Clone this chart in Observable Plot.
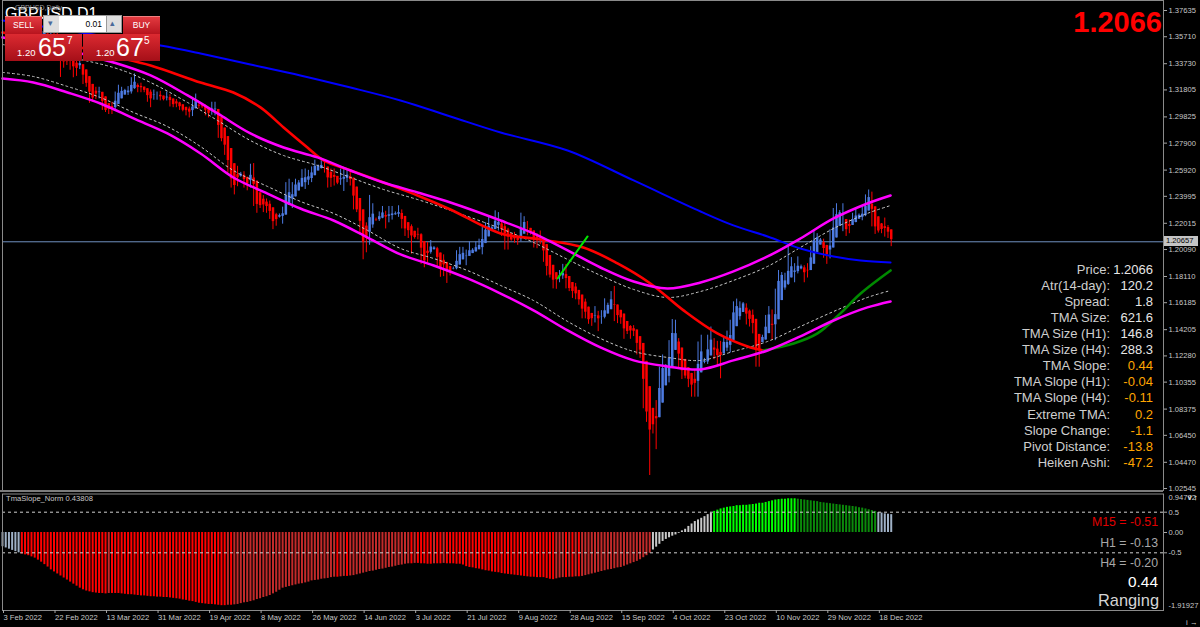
<!DOCTYPE html>
<html><head><meta charset="utf-8">
<script src="https://cdn.jsdelivr.net/npm/d3@7"></script>
<script src="https://cdn.jsdelivr.net/npm/@observablehq/plot@0.6"></script>
<style>
html,body{margin:0;padding:0;background:#000;}
#wrap{position:relative;width:1200px;height:627px;overflow:hidden;background:#000;font-family:"Liberation Sans",Arial,sans-serif;}
#wrap svg{position:absolute;left:0;}
.t{position:absolute;white-space:nowrap;line-height:1;}
</style></head><body><div id="wrap"></div><script>
// ---------- DATA ----------
const firstOpen = 1.3525;
const closes = [
1.3600,1.3530,1.3535,1.3535,1.3530,1.3555,1.3565,1.3560,1.3555,1.3535,
1.3540,1.3605,1.3610,1.3590,1.3575,1.3595,1.3570,1.3560,1.3375,1.3410,
1.3380,1.3410,1.3290,1.3385,1.3340,1.3245,1.3220,1.3110,1.3105,1.3185,
1.3160,1.3035,1.3030,1.3040,1.3040,1.3150,1.3170,1.3180,1.3175,1.3170,
1.3265,1.3200,1.3210,1.3185,1.3175,1.3100,1.3130,1.3155,1.3140,1.3110,
1.3110,1.3135,1.3075,1.3075,1.3075,1.3035,1.3030,1.3040,1.3000,1.3110,
1.3065,1.3060,1.3055,1.3010,1.3010,1.3070,1.3010,1.2835,1.2820,1.2735,
1.2575,1.2480,1.2480,1.2570,1.2560,1.2490,1.2495,1.2625,1.2360,1.2340,
1.2330,1.2330,1.2315,1.2245,1.2195,1.2265,1.2255,1.2315,1.2490,1.2345,
1.2490,1.2490,1.2500,1.2565,1.2530,1.2570,1.2600,1.2625,1.2620,1.2620,
1.2600,1.2470,1.2590,1.2490,1.2500,1.2530,1.2590,1.2530,1.2490,1.2310,
1.2300,1.2135,1.1995,1.2180,1.2345,1.2220,1.2230,1.2270,1.2280,1.2260,
1.2265,1.2265,1.2275,1.2270,1.2190,1.2130,1.2175,1.2095,1.2100,1.2115,
1.1935,1.1920,1.2030,1.2030,1.2020,1.1890,1.1890,1.1915,1.1830,1.1865,
1.1870,1.1960,1.1990,1.1970,1.1975,1.2000,1.2005,1.2030,1.2030,1.2160,
1.2180,1.2165,1.2170,1.2240,1.2165,1.2145,1.2155,1.2075,1.2080,1.2080,
1.2075,1.2215,1.2200,1.2130,1.2125,1.2055,1.2100,1.2060,1.1945,1.1830,
1.1820,1.1765,1.1830,1.1820,1.1830,1.1735,1.1720,1.1690,1.1645,1.1620,
1.1540,1.1510,1.1495,1.1525,1.1510,1.1530,1.1500,1.1590,1.1600,1.1680,
1.1500,1.1540,1.1470,1.1415,1.1410,1.1435,1.1380,1.1265,1.1255,1.0855,
1.0810,1.0685,1.0735,1.0890,1.1120,1.1165,1.1150,1.1325,1.1475,1.1320,
1.1150,1.1090,1.1080,1.1060,1.0970,1.1090,1.1320,1.1175,1.1190,1.1355,
1.1320,1.1205,1.1220,1.1310,1.1340,1.1295,1.1475,1.1615,1.1575,1.1620,
1.1610,1.1465,1.1515,1.1395,1.1160,1.1375,1.1360,1.1510,1.1545,1.1355,
1.1710,1.1835,1.1810,1.1760,1.1860,1.1870,1.1865,1.1895,1.1880,1.1820,
1.1885,1.2015,1.2115,1.2090,1.2075,1.1960,1.1990,1.2055,1.2265,1.2285,
1.2275,1.2160,1.2155,1.2210,1.2240,1.2265,1.2260,1.2275,1.2370,1.2415,
1.2195,1.2140,1.2150,1.2150,1.2165,1.2105,1.2066];
const highs = [
1.3628,1.3645,1.3540,1.3545,1.3570,1.3590,1.3643,1.3588,1.3562,1.3568,
1.3570,1.3614,1.3643,1.3620,1.3592,1.3645,1.3630,1.3600,1.3570,1.3420,
1.3400,1.3445,1.3430,1.3400,1.3440,1.3350,1.3250,1.3245,1.3180,1.3200,
1.3200,1.3160,1.3040,1.3080,1.3090,1.3165,1.3215,1.3200,1.3185,1.3205,
1.3270,1.3298,1.3225,1.3230,1.3190,1.3190,1.3180,1.3180,1.3165,1.3170,
1.3115,1.3165,1.3145,1.3090,1.3110,1.3090,1.3040,1.3055,1.3055,1.3125,
1.3150,1.3080,1.3065,1.3070,1.3040,1.3090,1.3090,1.3010,1.2835,1.2845,
1.2770,1.2595,1.2545,1.2620,1.2575,1.2580,1.2540,1.2635,1.2640,1.2385,
1.2345,1.2405,1.2380,1.2365,1.2260,1.2275,1.2270,1.2320,1.2500,1.2525,
1.2500,1.2525,1.2515,1.2595,1.2600,1.2590,1.2615,1.2665,1.2630,1.2665,
1.2665,1.2610,1.2600,1.2600,1.2510,1.2600,1.2600,1.2600,1.2595,1.2505,
1.2310,1.2315,1.2185,1.2205,1.2406,1.2345,1.2240,1.2285,1.2325,1.2290,
1.2325,1.2325,1.2285,1.2330,1.2300,1.2215,1.2195,1.2190,1.2110,1.2165,
1.2125,1.1970,1.2060,1.2075,1.2030,1.2025,1.1920,1.1970,1.1915,1.1885,
1.1880,1.2000,1.2025,1.2025,1.2005,1.2065,1.2015,1.2065,1.2085,1.2170,
1.2205,1.2245,1.2180,1.2293,1.2280,1.2210,1.2200,1.2165,1.2090,1.2135,
1.2110,1.2276,1.2250,1.2215,1.2135,1.2135,1.2125,1.2145,1.2075,1.1950,
1.1835,1.1830,1.1840,1.1855,1.1900,1.1900,1.1735,1.1745,1.1760,1.1695,
1.1625,1.1645,1.1510,1.1540,1.1590,1.1555,1.1560,1.1647,1.1615,1.1700,
1.1738,1.1590,1.1560,1.1470,1.1420,1.1450,1.1450,1.1400,1.1350,1.1275,
1.0860,1.0890,1.0815,1.0900,1.1145,1.1235,1.1165,1.1340,1.1495,1.1490,
1.1355,1.1180,1.1090,1.1090,1.1100,1.1120,1.1330,1.1380,1.1210,1.1380,
1.1440,1.1355,1.1335,1.1335,1.1360,1.1410,1.1490,1.1625,1.1645,1.1625,
1.1620,1.1610,1.1565,1.1565,1.1400,1.1380,1.1380,1.1525,1.1590,1.1565,
1.1718,1.1855,1.1840,1.1835,1.2030,1.1950,1.1905,1.1955,1.1895,1.1890,
1.1905,1.2030,1.2155,1.2125,1.2090,1.2085,1.2040,1.2155,1.2310,1.2345,
1.2295,1.2345,1.2200,1.2225,1.2275,1.2310,1.2270,1.2320,1.2410,1.2446,
1.2430,1.2245,1.2160,1.2200,1.2240,1.2185,1.2125];
const lows = [
1.3520,1.3490,1.3525,1.3487,1.3505,1.3520,1.3530,1.3520,1.3545,1.3500,
1.3520,1.3525,1.3580,1.3575,1.3560,1.3535,1.3540,1.3540,1.3272,1.3340,
1.3360,1.3325,1.3270,1.3280,1.3330,1.3220,1.3200,1.3082,1.3090,1.3110,
1.3115,1.3030,1.3015,1.3000,1.3000,1.3035,1.3090,1.3130,1.3165,1.3140,
1.3150,1.3185,1.3160,1.3160,1.3160,1.3090,1.3050,1.3105,1.3105,1.3100,
1.3100,1.3100,1.3055,1.3050,1.3050,1.3030,1.3020,1.2990,1.2975,1.2985,
1.3055,1.3040,1.3045,1.2990,1.2975,1.2995,1.2990,1.2825,1.2800,1.2700,
1.2570,1.2460,1.2410,1.2470,1.2540,1.2460,1.2440,1.2460,1.2325,1.2275,
1.2310,1.2280,1.2275,1.2230,1.2155,1.2180,1.2240,1.2195,1.2310,1.2345,
1.2310,1.2425,1.2485,1.2465,1.2450,1.2480,1.2500,1.2590,1.2610,1.2600,
1.2570,1.2460,1.2465,1.2475,1.2485,1.2480,1.2435,1.2500,1.2475,1.2300,
1.2280,1.2115,1.1934,1.1985,1.2040,1.2165,1.2215,1.2215,1.2235,1.2160,
1.2205,1.2225,1.2260,1.2245,1.2160,1.2105,1.2090,1.1975,1.2085,1.2080,
1.1900,1.1875,1.1910,1.1975,1.2005,1.1870,1.1805,1.1810,1.1760,1.1815,
1.1860,1.1860,1.1910,1.1940,1.1890,1.1960,1.1995,1.1990,1.2010,1.1970,
1.2060,1.2130,1.2160,1.2165,1.2145,1.2105,1.2005,1.2005,1.2070,1.2055,
1.2040,1.2065,1.2165,1.2110,1.2115,1.2020,1.2015,1.2045,1.1915,1.1815,
1.1800,1.1720,1.1717,1.1765,1.1790,1.1720,1.1700,1.1650,1.1640,1.1600,
1.1500,1.1500,1.1460,1.1445,1.1470,1.1406,1.1460,1.1500,1.1590,1.1580,
1.1480,1.1465,1.1460,1.1350,1.1385,1.1350,1.1370,1.1235,1.1210,1.0840,
1.0740,1.0350,1.0655,1.0540,1.0800,1.1020,1.1110,1.1030,1.1275,1.1280,
1.1140,1.1055,1.1060,1.0995,1.0925,1.0925,1.0925,1.1155,1.1170,1.1165,
1.1260,1.1200,1.1160,1.1060,1.1300,1.1260,1.1250,1.1460,1.1525,1.1490,
1.1590,1.1455,1.1440,1.1390,1.1145,1.1145,1.1340,1.1360,1.1470,1.1345,
1.1340,1.1700,1.1790,1.1710,1.1745,1.1850,1.1765,1.1830,1.1860,1.1765,
1.1800,1.1860,1.2010,1.2055,1.2060,1.1945,1.1900,1.1940,1.2040,1.2165,
1.2260,1.2140,1.2105,1.2125,1.2190,1.2205,1.2245,1.2220,1.2250,1.2330,
1.2175,1.2120,1.2130,1.2125,1.2100,1.2090,1.2030];

// moving averages / bands: [bar index, price]
const blueMA = [[0,1.3690],[24.2,1.3602],[49.1,1.3507],[61.5,1.3448],[77.0,1.3367],[92.5,1.3287],[108.1,1.3198],[123.6,1.3103],[139.1,1.2986],[154.7,1.2868],[175.5,1.2736],[196.0,1.2516],[216.8,1.2288],[227.0,1.2186],[237.6,1.2105],[247.8,1.2017],[258.1,1.1958],[266.5,1.1929],[275.8,1.1914]];
const redMA = [[0,1.3602],[18.0,1.3529],[33.5,1.3433],[46.0,1.3360],[61.5,1.3235],[71.7,1.3162],[80.1,1.3052],[87.3,1.2905],[94.7,1.2758],[99.7,1.2663],[108.1,1.2589],[118.3,1.2501],[128.9,1.2406],[139.1,1.2303],[154.7,1.2127],[167.1,1.2083],[180.4,1.2024],[191.0,1.1907],[201.2,1.1760],[211.5,1.1562],[222.0,1.1393],[232.3,1.1290],[236.3,1.1268]];
const greenMA = [[236.3,1.1268],[245.7,1.1319],[253.1,1.1393],[260.2,1.1540],[266.5,1.1686],[275.8,1.1855]];
const upperBand = [[0,1.3565],[18.0,1.3485],[34.5,1.3382],[46.0,1.3287],[57.5,1.3140],[66.8,1.3008],[77.0,1.2861],[87.3,1.2758],[97.8,1.2685],[108.1,1.2589],[118.3,1.2501],[128.9,1.2428],[139.1,1.2354],[154.7,1.2222],[164.9,1.2127],[175.5,1.2002],[185.7,1.1877],[196.0,1.1774],[206.5,1.1723],[216.8,1.1767],[227.0,1.1848],[237.6,1.1958],[247.8,1.2090],[258.1,1.2237],[268.6,1.2347],[275.8,1.2406]];
const lowerBand = [[0,1.3264],[9.6,1.3235],[20.2,1.3162],[30.4,1.3081],[40.7,1.2971],[51.2,1.2861],[61.5,1.2714],[71.7,1.2538],[82.3,1.2420],[92.5,1.2310],[102.8,1.2222],[113.4,1.2097],[123.6,1.1973],[133.9,1.1892],[144.4,1.1797],[154.7,1.1686],[164.9,1.1562],[175.5,1.1415],[185.7,1.1290],[196.0,1.1195],[206.5,1.1151],[216.8,1.1129],[227.0,1.1195],[237.6,1.1268],[247.8,1.1371],[258.1,1.1488],[268.6,1.1584],[275.8,1.1628]];
const innerUpper = [[0,1.3514],[34.5,1.3345],[46.0,1.3235],[57.5,1.3088],[66.8,1.2956],[77.0,1.2809],[87.3,1.2699],[97.8,1.2626],[108.1,1.2538],[118.3,1.2450],[128.9,1.2376],[139.1,1.2296],[154.7,1.2163],[164.9,1.2061],[175.5,1.1936],[185.7,1.1819],[196.0,1.1716],[206.5,1.1657],[216.8,1.1701],[227.0,1.1782],[237.6,1.1885],[247.8,1.2024],[258.1,1.2163],[268.6,1.2274],[275.8,1.2332]];
const innerLower = [[0,1.3309],[9.6,1.3279],[20.2,1.3206],[30.4,1.3125],[40.7,1.3015],[51.2,1.2912],[61.5,1.2765],[71.7,1.2589],[82.3,1.2472],[92.5,1.2362],[102.8,1.2274],[113.4,1.2149],[123.6,1.2017],[133.9,1.1943],[144.4,1.1855],[154.7,1.1745],[164.9,1.1635],[175.5,1.1481],[185.7,1.1356],[196.0,1.1261],[206.5,1.1217],[216.8,1.1195],[227.0,1.1261],[237.6,1.1334],[247.8,1.1444],[258.1,1.1554],[268.6,1.1657],[275.8,1.1708]];
const slopeLine = [[172.4,1.1796],[181.7,1.2105]];
const priceNow = 1.20657;

// TmaSlope_Norm histogram, one value per bar
const slopeNorm = [
-0.35,-0.38,-0.41,-0.44,-0.47,-0.50,-0.53,-0.55,-0.57,-0.60,
-0.63,-0.68,-0.73,-0.79,-0.85,-0.92,-0.97,-1.02,-1.07,-1.12,
-1.17,-1.22,-1.27,-1.32,-1.37,-1.41,-1.44,-1.46,-1.48,-1.49,
-1.50,-1.50,-1.51,-1.50,-1.50,-1.50,-1.50,-1.51,-1.52,-1.53,
-1.53,-1.54,-1.55,-1.56,-1.56,-1.57,-1.58,-1.58,-1.59,-1.59,
-1.60,-1.60,-1.61,-1.62,-1.63,-1.64,-1.66,-1.67,-1.69,-1.70,
-1.72,-1.74,-1.75,-1.76,-1.77,-1.77,-1.78,-1.79,-1.80,-1.80,
-1.79,-1.79,-1.78,-1.77,-1.75,-1.73,-1.72,-1.70,-1.68,-1.65,
-1.63,-1.60,-1.58,-1.55,-1.51,-1.47,-1.42,-1.37,-1.35,-1.33,
-1.31,-1.29,-1.27,-1.26,-1.24,-1.22,-1.19,-1.18,-1.17,-1.15,
-1.14,-1.13,-1.11,-1.10,-1.10,-1.09,-1.08,-1.08,-1.07,-1.06,
-1.04,-1.02,-1.00,-0.98,-0.96,-0.95,-0.93,-0.91,-0.90,-0.88,
-0.86,-0.85,-0.83,-0.81,-0.80,-0.78,-0.77,-0.77,-0.76,-0.76,
-0.77,-0.77,-0.78,-0.78,-0.77,-0.77,-0.77,-0.76,-0.77,-0.77,
-0.77,-0.78,-0.78,-0.80,-0.84,-0.86,-0.87,-0.89,-0.90,-0.92,
-0.94,-0.95,-0.97,-0.98,-0.99,-1.01,-1.02,-1.03,-1.04,-1.05,
-1.06,-1.07,-1.08,-1.09,-1.10,-1.10,-1.11,-1.11,-1.11,-1.13,
-1.15,-1.16,-1.14,-1.12,-1.11,-1.11,-1.10,-1.10,-1.09,-1.09,
-1.08,-1.06,-1.04,-1.02,-1.00,-0.98,-0.96,-0.94,-0.92,-0.91,
-0.89,-0.87,-0.86,-0.83,-0.80,-0.77,-0.74,-0.71,-0.67,-0.62,
-0.57,-0.51,-0.43,-0.36,-0.29,-0.22,-0.17,-0.13,-0.09,-0.06,
-0.02,0.04,0.08,0.15,0.21,0.27,0.31,0.35,0.39,0.44,
0.48,0.52,0.55,0.58,0.60,0.62,0.63,0.64,0.66,0.66,
0.67,0.67,0.68,0.69,0.70,0.72,0.72,0.74,0.76,0.78,
0.80,0.81,0.82,0.82,0.83,0.83,0.83,0.82,0.81,0.80,
0.79,0.78,0.77,0.76,0.74,0.73,0.72,0.71,0.70,0.69,
0.68,0.67,0.66,0.65,0.64,0.63,0.61,0.60,0.58,0.56,
0.54,0.52,0.49,0.48,0.46,0.45,0.44];

const yTicks = [1.37635,1.35710,1.33730,1.31805,1.29825,1.27900,1.25920,1.23995,1.22015,1.20090,1.18110,1.16185,1.14205,1.12280,1.10355,1.08375,1.06450,1.04470,1.02545];
const tickLabels = ["3 Feb 2022","22 Feb 2022","13 Mar 2022","31 Mar 2022","19 Apr 2022","8 May 2022","26 May 2022","14 Jun 2022","3 Jul 2022","21 Jul 2022","9 Aug 2022","28 Aug 2022","15 Sep 2022","4 Oct 2022","23 Oct 2022","10 Nov 2022","29 Nov 2022","18 Dec 2022"];
const tickBars = [0,16,32,48,64,80,96,112,128,144,160,176,192,208,224,240,256,272];

const infoLabels = ["Price:","Atr(14-day):","Spread:","TMA Size:","TMA Size (H1):","TMA Size (H4):","TMA Slope:","TMA Slope (H1):","TMA Slope (H4):","Extreme TMA:","Slope Change:","Pivot Distance:","Heiken Ashi:"];
const infoValues = ["1.2066","120.2","1.8","621.6","146.8","288.3","0.44","-0.04","-0.11","0.2","-1.1","-13.8","-47.2"];

// ---------- BUILD ----------
const BULL = "#4d7be2", BEAR = "#ff0000";
const ha = [];
for (let i = 0; i < closes.length; i++) {
  const O = i ? closes[i-1] : firstOpen, H = highs[i], L = lows[i], C = closes[i];
  const hc = (O + H + L + C) / 4;
  const ho = i ? (ha[i-1].o + ha[i-1].c) / 2 : (O + C) / 2;
  ha.push({i, o: ho, c: hc, h: Math.max(H, ho, hc), l: Math.min(L, ho, hc), col: hc >= ho ? BULL : BEAR});
}
const hist = slopeNorm.map((v, i) => {
  const d = i ? v - slopeNorm[i-1] : slopeNorm[1] - v;
  let col;
  if (v < -0.5) col = d <= 0 ? "#ff0000" : "#c22a2a";
  else if (v > 0.5) col = d >= 0 ? "#00ff00" : "#0b8a0b";
  else col = d >= 0 ? "#c9c9c9" : "#9fb1c6";
  return {i, v, col};
});

const xDomain = [0, 360.56];
const FONT = "'Liberation Sans', Arial, sans-serif";
const ln = (pts, stroke, w, extra = {}) => Plot.line(pts, {x: d => d[0], y: d => d[1], stroke, strokeWidth: w, curve: "catmull-rom", ...extra});

const main = Plot.plot({
  width: 1200, height: 491,
  marginLeft: 2, marginRight: 37, marginTop: 0, marginBottom: 1,
  style: {background: "transparent", color: "#c8c8c8", fontFamily: FONT, fontSize: "7.6px", overflow: "visible"},
  x: {domain: xDomain, axis: null},
  y: {domain: [1.0240, 1.3837]},
  color: {type: "identity"},
  marks: [
    Plot.ruleY([priceNow], {stroke: "#7090c0", strokeWidth: 1}),
    Plot.ruleX(ha, {x: "i", y1: "l", y2: "h", stroke: "col", strokeWidth: 1}),
    Plot.ruleX(ha, {x: "i", y1: "o", y2: "c", stroke: "col", strokeWidth: 2.5}),
    ln(innerUpper, "#c8c8c8", 1, {strokeDasharray: "2,3"}),
    ln(innerLower, "#c8c8c8", 1, {strokeDasharray: "2,3"}),
    ln(blueMA, "#0000ff", 2),
    ln(redMA, "#ff0000", 2.6),
    ln(greenMA, "#008a00", 2.6),
    ln(upperBand, "#ff00ff", 2.5),
    ln(lowerBand, "#ff00ff", 2.5),
    ln(slopeLine, "#00e600", 2, {curve: "linear"}),
    Plot.frame({stroke: "#8a8a8a"}),
    Plot.axisY(yTicks, {anchor: "right", tickSize: 3, tickPadding: 2, tickFormat: d => d.toFixed(5), fontSize: 7.6, stroke: "#a8a8a8"})
  ]
});
main.style.top = "0px";

const ind = Plot.plot({
  width: 1200, height: 136,
  marginLeft: 2, marginRight: 37, marginTop: 2.5, marginBottom: 17,
  style: {background: "transparent", color: "#c8c8c8", fontFamily: FONT, fontSize: "7.6px", overflow: "visible"},
  x: {domain: xDomain},
  y: {domain: [-1.91927, 0.94772]},
  color: {type: "identity"},
  marks: [
    Plot.ruleX(hist, {x: "i", y1: 0, y2: "v", stroke: "col", strokeWidth: 2}),
    Plot.ruleY([0.5, -0.5], {stroke: "#d0d0d0", strokeDasharray: "3,3", strokeWidth: 1}),
    Plot.frame({stroke: "#8a8a8a"}),
    Plot.axisY([0.5, 0, -0.5], {anchor: "right", tickSize: 3, tickPadding: 2, fontSize: 7.6, tickFormat: d => d === 0 ? "0.00" : String(d), stroke: "#a8a8a8"}),
    Plot.axisY([0.94772], {anchor: "right", tickSize: 0, tickPadding: 5, fontSize: 7.6, dy: 4, tickFormat: d => d.toFixed(5)}),
    Plot.axisY([-1.91927], {anchor: "right", tickSize: 0, tickPadding: 5, fontSize: 7.6, dy: -5, tickFormat: d => d.toFixed(5)}),
    Plot.axisX(tickBars, {anchor: "bottom", tickSize: 3, tickPadding: 1, textAnchor: "start", dx: 1, fontSize: 7.6, stroke: "#a8a8a8", tickFormat: d => tickLabels[tickBars.indexOf(d)]})
  ]
});
ind.style.top = "491px";

const wrap = document.getElementById("wrap");
wrap.appendChild(main);
wrap.appendChild(ind);

function addText(txt, css) {
  const d = document.createElement("div");
  d.className = "t";
  d.textContent = txt;
  d.style.cssText += css;
  wrap.appendChild(d);
  return d;
}
function addBox(css) {
  const d = document.createElement("div");
  d.style.cssText = "position:absolute;" + css;
  wrap.appendChild(d);
  return d;
}

// separator between panes
addBox("left:0;top:490px;width:1163px;height:2px;background:#7c7c7c;");

// current price tag on axis
const py = main.scale("y").apply(priceNow);
addBox(`left:1164px;top:${py - 5}px;width:34px;height:10px;background:#c4c4c4;`);
addText("1.20657", `left:1166px;top:${py - 4}px;font-size:7.6px;color:#000;`);

// title
addText("GBPUSD,D1", "left:5px;top:6px;font-size:16px;color:#fff;");
addText("GBPUSD,Daily", "left:15px;top:4px;font-size:7px;color:#9a9a9a;");

// trade panel
const RED = "linear-gradient(#e23a40,#b8141e)";
addBox(`left:5px;top:16px;width:37px;height:17px;background:${RED};border-top:1px solid #f08080;`);
addText("SELL", "left:5px;top:21px;width:37px;text-align:center;font-size:8.5px;color:#fff;");
addBox("left:43px;top:15px;width:79px;height:18px;background:#9a9a9a;");
addBox("left:44px;top:16px;width:15px;height:16px;background:#dedede;");
addBox("left:59px;top:16px;width:47px;height:16px;background:#fff;");
addBox("left:107px;top:16px;width:14px;height:16px;background:#dedede;");
addText("▾", "left:48px;top:19px;font-size:9px;color:#4a6a9a;");
addText("▴", "left:110px;top:19px;font-size:9px;color:#4a6a9a;");
addText("0.01", "left:59px;top:20px;width:43px;text-align:right;font-size:8.5px;color:#000;");
addBox(`left:123px;top:16px;width:37px;height:17px;background:${RED};border-top:1px solid #f08080;`);
addText("BUY", "left:123px;top:21px;width:37px;text-align:center;font-size:8.5px;color:#fff;");
const RED2 = "linear-gradient(#dc2a31,#a50f18)";
addBox(`left:5px;top:34px;width:77px;height:27px;background:${RED2};`);
addBox(`left:83px;top:34px;width:77px;height:27px;background:${RED2};`);
addText("1.20", "left:17px;top:48px;font-size:9.5px;color:#fff;");
addText("65", "left:38px;top:35px;font-size:25px;color:#fff;");
addText("7", "left:67px;top:36px;font-size:10px;color:#fff;");
addText("1.20", "left:96px;top:48px;font-size:9.5px;color:#fff;");
addText("67", "left:116px;top:35px;font-size:25px;color:#fff;");
addText("5", "left:144px;top:36px;font-size:10px;color:#fff;");

// big price
addText("1.2066", "right:38px;top:7.5px;font-size:29px;font-weight:bold;color:#ff0000;");

// info panel
infoLabels.forEach((lab, k) => {
  const c = 269 + k * 16.1;
  addText(lab, `right:90px;top:${c - 6.4}px;font-size:13px;color:#cfcfcf;`);
  addText(infoValues[k], `right:47px;top:${c - 6.4}px;font-size:13px;color:${k < 6 ? "#e6e6e6" : "#ffa500"};`);
});

// indicator texts
addText("TmaSlope_Norm 0.43808", "left:6px;top:495.3px;font-size:7.6px;color:#c8c8c8;");
addText("M15 = -0.51", "right:42px;top:516.3px;font-size:12.3px;color:#e00000;");
addText("H1 = -0.13", "right:42px;top:536.7px;font-size:12.3px;color:#a8a8a8;");
addText("H4 = -0.20", "right:42px;top:556.7px;font-size:12.3px;color:#a8a8a8;");
addText("0.44", "right:42px;top:573.5px;font-size:15.4px;color:#ffffff;");
addText("Ranging", "right:41px;top:592px;font-size:16.4px;color:#d4d4d4;");
</script></body></html>
